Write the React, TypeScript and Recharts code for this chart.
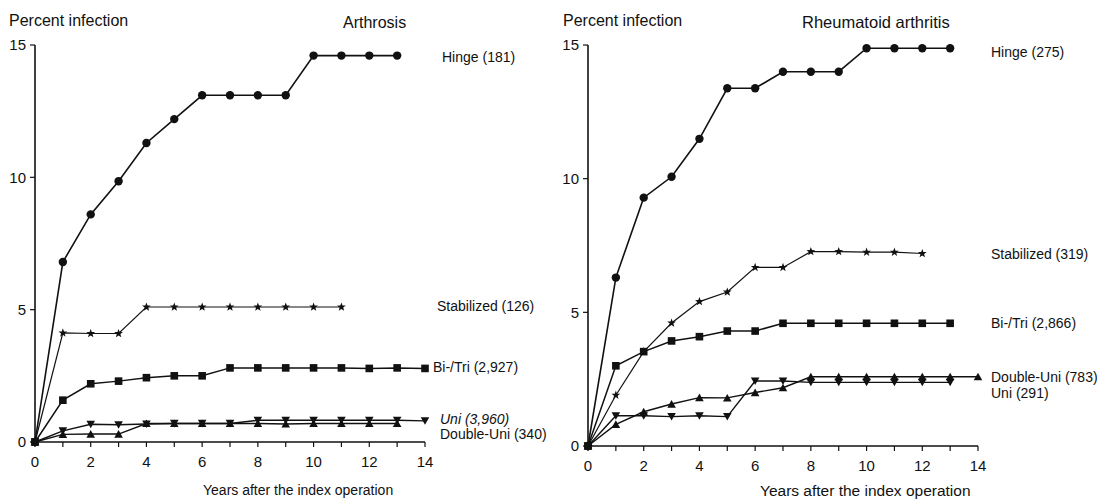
import React from 'react';
import { LineChart, Line, XAxis, YAxis } from 'recharts';

// ---------- data ----------
const YEARS = [0, 1, 2, 3, 4, 5, 6, 7, 8, 9, 10, 11, 12, 13, 14];
const Y_TICKS = [0, 5, 10, 15];

// Arthrosis
const hingeA = [0, 6.8, 8.6, 9.85, 11.3, 12.2, 13.1, 13.1, 13.1, 13.1, 14.6, 14.6, 14.6, 14.6, null];
const stabA = [0, 4.12, 4.1, 4.1, 5.1, 5.1, 5.1, 5.1, 5.1, 5.1, 5.1, 5.1, null, null, null];
const biTriA = [0, 1.58, 2.2, 2.3, 2.43, 2.5, 2.5, 2.8, 2.8, 2.8, 2.8, 2.8, 2.78, 2.8, 2.78];
const uniA = [0, 0.42, 0.67, 0.65, 0.68, 0.7, 0.7, 0.7, 0.82, 0.82, 0.82, 0.82, 0.82, 0.82, 0.8];
const dUniA = [0, 0.29, 0.3, 0.3, 0.7, 0.7, 0.7, 0.7, 0.7, 0.68, 0.7, 0.7, 0.7, 0.7, null];

// Rheumatoid arthritis
const hingeR = [0, 6.3, 9.29, 10.07, 11.49, 13.38, 13.38, 14.0, 14.0, 14.0, 14.88, 14.88, 14.88, 14.88, null];
const stabR = [0, 1.9, 3.53, 4.6, 5.4, 5.76, 6.68, 6.68, 7.27, 7.27, 7.25, 7.25, 7.2, null, null];
const biTriR = [0, 3.0, 3.53, 3.93, 4.09, 4.3, 4.3, 4.59, 4.59, 4.59, 4.59, 4.59, 4.59, 4.59, null];
const uniR = [0, 1.13, 1.13, 1.1, 1.13, 1.1, 2.43, 2.43, 2.38, 2.38, 2.38, 2.38, 2.38, 2.38, null];
const dUniR = [0, 0.81, 1.28, 1.57, 1.81, 1.8, 2.0, 2.18, 2.59, 2.59, 2.59, 2.59, 2.59, 2.59, 2.59];

const buildRows = (h: any[], s: any[], b: any[], u: any[], d: any[]) =>
  YEARS.map((y, i) => ({ year: y, hinge: h[i], stab: s[i], bitri: b[i], uni: u[i], duni: d[i] }));

const rowsA = buildRows(hingeA, stabA, biTriA, uniA, dUniA);
const rowsR = buildRows(hingeR, stabR, biTriR, uniR, dUniR);

// ---------- styles ----------
const INK = '#111';
const FONT = '"Liberation Sans", Arial, Helvetica, sans-serif';

const ok = (p: any) => p && p.cx != null && p.cy != null && !isNaN(p.cx) && !isNaN(p.cy) && p.value != null;
const k = (p: any, s: string) => `${s}-${p.index}`;

const circleDot = (p: any) =>
  ok(p) ? <circle key={k(p, 'c')} cx={p.cx} cy={p.cy} r={4.2} fill={INK} /> : <g key={k(p, 'c')} />;

const squareDot = (p: any) =>
  ok(p) ? <rect key={k(p, 's')} x={p.cx - 3.8} y={p.cy - 3.8} width={7.6} height={7.6} fill={INK} /> : <g key={k(p, 's')} />;

const starPath = (cx: number, cy: number, ro: number, ri: number) => {
  let d = '';
  for (let i = 0; i < 10; i++) {
    const r = i % 2 === 0 ? ro : ri;
    const a = -Math.PI / 2 + (i * Math.PI) / 5;
    d += (i === 0 ? 'M' : 'L') + (cx + r * Math.cos(a)).toFixed(2) + ',' + (cy + r * Math.sin(a)).toFixed(2);
  }
  return d + 'Z';
};
const starDot = (p: any) =>
  ok(p) ? <path key={k(p, 'st')} d={starPath(p.cx, p.cy, 4.6, 1.9)} fill={INK} /> : <g key={k(p, 'st')} />;

const triDownDot = (p: any) =>
  ok(p) ? (
    <path key={k(p, 'td')} d={`M${p.cx - 4.3},${p.cy - 3.6}L${p.cx + 4.3},${p.cy - 3.6}L${p.cx},${p.cy + 4}Z`} fill={INK} />
  ) : (
    <g key={k(p, 'td')} />
  );
const triUpDot = (p: any) =>
  ok(p) ? (
    <path key={k(p, 'tu')} d={`M${p.cx - 4.3},${p.cy + 3.6}L${p.cx + 4.3},${p.cy + 3.6}L${p.cx},${p.cy - 4}Z`} fill={INK} />
  ) : (
    <g key={k(p, 'tu')} />
  );

const axisCommon = {
  stroke: INK,
  axisLine: { stroke: INK, strokeWidth: 1.6 },
  tickLine: { stroke: INK, strokeWidth: 1.2 },
};

function Panel({ rows, margin }: { rows: any[]; margin: any }) {
  return (
    <LineChart width={549} height={499} data={rows} margin={margin}>
      <XAxis
        dataKey="year"
        type="number"
        domain={[0, 14]}
        ticks={YEARS}
        interval={0}
        height={30}
        tickSize={5}
        tickMargin={9}
        tickFormatter={(v: number) => (v % 2 === 0 ? String(v) : '')}
        tick={{ fill: INK, fontSize: 15, fontFamily: FONT }}
        {...axisCommon}
      />
      <YAxis
        type="number"
        domain={[0, 15]}
        ticks={Y_TICKS}
        interval={0}
        width={35}
        tickSize={5}
        tickMargin={4}
        tick={{ fill: INK, fontSize: 15, fontFamily: FONT }}
        {...axisCommon}
      />
      <Line dataKey="duni" stroke={INK} strokeWidth={1.4} dot={triUpDot} activeDot={false} isAnimationActive={false} />
      <Line dataKey="uni" stroke={INK} strokeWidth={1.4} dot={triDownDot} activeDot={false} isAnimationActive={false} />
      <Line dataKey="bitri" stroke={INK} strokeWidth={1.5} dot={squareDot} activeDot={false} isAnimationActive={false} />
      <Line dataKey="stab" stroke={INK} strokeWidth={1.2} dot={starDot} activeDot={false} isAnimationActive={false} />
      <Line dataKey="hinge" stroke={INK} strokeWidth={1.6} dot={circleDot} activeDot={false} isAnimationActive={false} />
    </LineChart>
  );
}

type T = { x: number; y: number; s: string; size: number; italic?: boolean; base?: boolean };
const TEXTS: T[] = [
  { x: 9, y: 26, s: 'Percent infection', size: 16, base: true },
  { x: 343, y: 28, s: 'Arthrosis', size: 16, base: true },
  { x: 442, y: 57, s: 'Hinge (181)', size: 14 },
  { x: 437, y: 306, s: 'Stabilized (126)', size: 14 },
  { x: 433, y: 367, s: 'Bi-/Tri (2,927)', size: 14 },
  { x: 440, y: 419, s: 'Uni (3,960)', size: 14, italic: true },
  { x: 440, y: 434, s: 'Double-Uni (340)', size: 14 },
  { x: 203, y: 490, s: 'Years after the index operation', size: 14 },
  { x: 563, y: 26, s: 'Percent infection', size: 16, base: true },
  { x: 802, y: 28, s: 'Rheumatoid arthritis', size: 16.5, base: true },
  { x: 991, y: 52, s: 'Hinge (275)', size: 14 },
  { x: 991, y: 254, s: 'Stabilized (319)', size: 14 },
  { x: 991, y: 323, s: 'Bi-/Tri (2,866)', size: 14 },
  { x: 991, y: 377, s: 'Double-Uni (783)', size: 14 },
  { x: 991, y: 393, s: 'Uni (291)', size: 14 },
  { x: 760, y: 490, s: 'Years after the index operation', size: 15.5 },
];

export default function App() {
  return (
    <div style={{ position: 'absolute', left: 0, top: 0, width: 1098, height: 499, background: '#fff', overflow: 'hidden' }}>
      <div style={{ position: 'absolute', left: 0, top: 0 }}>
        <Panel rows={rowsA} margin={{ top: 45, right: 124, bottom: 27, left: 0 }} />
      </div>
      <div style={{ position: 'absolute', left: 549, top: 0 }}>
        <Panel rows={rowsR} margin={{ top: 45, right: 120, bottom: 23, left: 4 }} />
      </div>
      <svg width={1098} height={499} style={{ position: 'absolute', left: 0, top: 0, pointerEvents: 'none' }}>
        {TEXTS.map((t, i) => (
          <text
            key={i}
            x={t.x}
            y={t.y}
            fontSize={t.size}
            fontFamily={FONT}
            fontStyle={t.italic ? 'italic' : 'normal'}
            fill={INK}
            dominantBaseline={t.base ? 'alphabetic' : 'central'}
          >
            {t.s}
          </text>
        ))}
      </svg>
    </div>
  );
}
